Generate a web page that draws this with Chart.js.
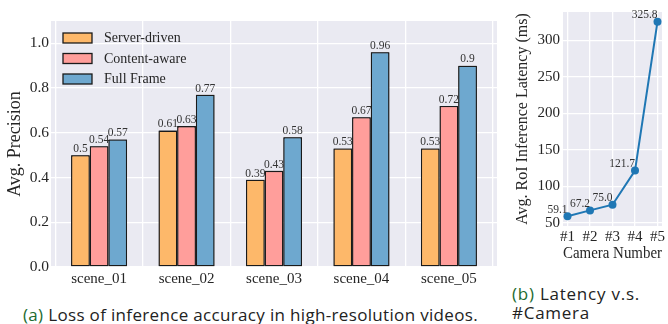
<!DOCTYPE html>
<html>
<head>
<meta charset="utf-8">
<script src="https://cdn.jsdelivr.net/npm/chart.js@4.4.1/dist/chart.umd.min.js"></script>
<style>
  html, body { margin: 0; padding: 0; background: #ffffff; }
  body { width: 668px; height: 324px; position: relative; overflow: hidden; }
  #accWrap { position: absolute; left: 0; top: 0; width: 500px; height: 290px; }
  #latWrap { position: absolute; left: 500px; top: 0; width: 168px; height: 270px; }
  .cap { position: absolute; font-family: "Open Sans", "Noto Sans", sans-serif; font-size: 17px; color: #222222; white-space: nowrap; line-height: 1; }
  .cap .tag { color: #1d6b30; }
</style>
</head>
<body>
<div id="accWrap"><canvas id="acc" width="500" height="290"></canvas></div>
<div id="latWrap"><canvas id="lat" width="168" height="270"></canvas></div>
<div class="cap" id="capA" data-w="455" style="left:23px; top:306px;"><span class="tag">(a)</span> Loss of inference accuracy in high-resolution videos.</div>
<div class="cap" id="capB1" data-w="128" style="left:512px; top:285px;"><span class="tag">(b)</span> Latency v.s.</div>
<div class="cap" id="capB2" data-w="78" style="left:512px; top:304px;">#Camera</div>

<script>
// ---- accuracy per scene ----
const scenes = ['scene_01', 'scene_02', 'scene_03', 'scene_04', 'scene_05'];
const serverDriven = [0.50, 0.61, 0.39, 0.53, 0.53];
const contentAware = [0.54, 0.63, 0.43, 0.67, 0.72];
const fullFrame    = [0.57, 0.77, 0.58, 0.96, 0.90];
const precisionTicks = [0.0, 0.2, 0.4, 0.6, 0.8, 1.0];

// ---- latency per camera count ----
const cameras = ['#1', '#2', '#3', '#4', '#5'];
const latencyMs = [59.1, 67.2, 75.0, 121.7, 325.8];
const latencyTicks = [50, 100, 150, 200, 250, 300];

const SERIF = '"Liberation Serif", "Times New Roman", serif';
const TEXT = '#262626';
const PANEL = '#eaeaf2';

// spread each caption's letters so the line runs to its set width
document.querySelectorAll('.cap').forEach(el => {
  const target = Number(el.dataset.w);
  const n = el.textContent.length;
  const w = el.getBoundingClientRect().width;
  el.style.letterSpacing = ((target - w) / n).toFixed(3) + 'px';
});

Chart.defaults.animation = false;
Chart.defaults.font.family = SERIF;
Chart.defaults.color = TEXT;

// grey panel behind the plot area
const panelBg = {
  id: 'panelBg',
  beforeDraw(chart) {
    const { ctx, chartArea: a } = chart;
    ctx.save();
    ctx.fillStyle = PANEL;
    ctx.fillRect(a.left, a.top, a.right - a.left, a.bottom - a.top);
    ctx.restore();
  }
};

// bars of each series are painted in turn, each followed by its value labels,
// so later series overlap the labels of earlier ones
const barLabels = {
  id: 'barLabels',
  afterDatasetsDraw(chart) {
    const ctx = chart.ctx;
    chart.data.datasets.forEach((ds, i) => {
      const meta = chart.getDatasetMeta(i);
      meta.data.forEach(el => el.draw(ctx));
      ctx.save();
      ctx.font = '11.5px ' + SERIF;
      ctx.fillStyle = '#333333';
      ctx.textAlign = 'center';
      ctx.textBaseline = 'bottom';
      meta.data.forEach((el, j) => {
        ctx.fillText(String(ds.data[j].y), el.x, el.y - 0.5);
      });
      ctx.restore();
    });
  }
};

// legend inside the upper-left corner of the panel
const insideLegend = {
  id: 'insideLegend',
  afterDraw(chart) {
    const { ctx, chartArea: a } = chart;
    ctx.save();
    ctx.font = '14px ' + SERIF;
    ctx.textBaseline = 'middle';
    ctx.textAlign = 'left';
    chart.data.datasets.forEach((ds, i) => {
      const cy = a.top + 17 + i * 20.5;
      const x0 = a.left + 12;
      ctx.fillStyle = ds.backgroundColor;
      ctx.fillRect(x0, cy - 5, 29, 10);
      ctx.strokeStyle = '#1a1a1a';
      ctx.lineWidth = 1.3;
      ctx.strokeRect(x0, cy - 5, 29, 10);
      ctx.fillStyle = TEXT;
      ctx.fillText(ds.label, x0 + 41, cy + 0.5);
    });
    ctx.restore();
  }
};

function series(label, values, color) {
  return {
    label,
    data: values.map((v, i) => ({ x: i, y: v })),
    backgroundColor: color,
    borderColor: '#1a1a1a',
    borderWidth: 1.3,
    borderSkipped: false,
    categoryPercentage: 0.64,
    barPercentage: 1.0
  };
}

new Chart(document.getElementById('acc'), {
  type: 'bar',
  data: {
    datasets: [
      series('Server-driven', serverDriven, '#fdb86a'),
      series('Content-aware', contentAware, '#ff9e9b'),
      series('Full Frame', fullFrame, '#6ea8cf')
    ]
  },
  options: {
    responsive: false,
    layout: { padding: { top: 21, right: 3, left: 0, bottom: 0 } },
    plugins: { legend: { display: false }, tooltip: { enabled: false } },
    scales: {
      x: {
        type: 'linear',
        offset: false,
        min: -0.55,
        max: 4.55,
        afterBuildTicks(s) { s.ticks = scenes.map((_, i) => ({ value: i })); },
        afterFit(s) { s.height = 23; },
        ticks: {
          font: { size: 15 },
          color: TEXT,
          padding: 3,
          maxRotation: 0,
          autoSkip: false,
          callback: v => scenes[v]
        },
        grid: { color: '#ffffff', lineWidth: 1.3, drawTicks: false },
        border: { display: false }
      },
      y: {
        min: 0,
        max: 1.1,
        afterBuildTicks(s) { s.ticks = precisionTicks.map(v => ({ value: v })); },
        afterFit(s) { s.width = 51; },
        ticks: { font: { size: 15.5 }, color: TEXT, padding: 2, callback: v => v.toFixed(1) },
        grid: { color: '#ffffff', lineWidth: 1.3, drawTicks: false },
        border: { display: false },
        title: { display: true, text: 'Avg. Precision', font: { size: 18 }, color: TEXT, padding: { top: 4, bottom: 0 } }
      }
    }
  },
  plugins: [panelBg, barLabels, insideLegend]
});

// value labels sit above and to the left of each point
const pointLabels = {
  id: 'pointLabels',
  afterDatasetsDraw(chart) {
    const ctx = chart.ctx;
    const meta = chart.getDatasetMeta(0);
    ctx.save();
    ctx.font = '11.5px ' + SERIF;
    ctx.fillStyle = '#333333';
    ctx.textAlign = 'right';
    ctx.textBaseline = 'bottom';
    meta.data.forEach((pt, j) => {
      ctx.fillText(latencyMs[j].toFixed(1), pt.x, pt.y - 1);
    });
    ctx.restore();
  }
};

new Chart(document.getElementById('lat'), {
  type: 'line',
  data: {
    datasets: [{
      data: latencyMs.map((v, i) => ({ x: i, y: v })),
      borderColor: '#1f77b4',
      backgroundColor: '#1f77b4',
      borderWidth: 2,
      pointRadius: 4,
      pointBackgroundColor: '#1f77b4',
      pointBorderWidth: 0,
      tension: 0,
      clip: false
    }]
  },
  options: {
    responsive: false,
    layout: { padding: { top: 6, right: 6, left: 0, bottom: 0 } },
    plugins: { legend: { display: false }, tooltip: { enabled: false } },
    scales: {
      x: {
        type: 'linear',
        min: -0.2,
        max: 4.2,
        afterBuildTicks(s) { s.ticks = cameras.map((_, i) => ({ value: i })); },
        afterFit(s) { s.height = 44; },
        ticks: { font: { size: 15 }, color: TEXT, padding: 2, maxRotation: 0, autoSkip: false, callback: v => cameras[v] },
        grid: { color: '#ffffff', lineWidth: 1.3, drawTicks: false },
        border: { display: false },
        title: { display: true, text: 'Camera Number', font: { size: 16 }, color: TEXT, padding: { top: 0, bottom: 7 } }
      },
      y: {
        min: 45.8,
        max: 339.1,
        afterBuildTicks(s) { s.ticks = latencyTicks.map(v => ({ value: v })); },
        afterFit(s) { s.width = 63; },
        ticks: { font: { size: 15 }, color: TEXT, padding: 3 },
        grid: { color: '#ffffff', lineWidth: 1.3, drawTicks: false },
        border: { display: false },
        title: { display: true, text: 'Avg. RoI Inference Latency (ms)', font: { size: 16 }, color: TEXT, padding: { top: 13, bottom: 0 } }
      }
    }
  },
  plugins: [panelBg, pointLabels]
});
</script>
</body>
</html>
